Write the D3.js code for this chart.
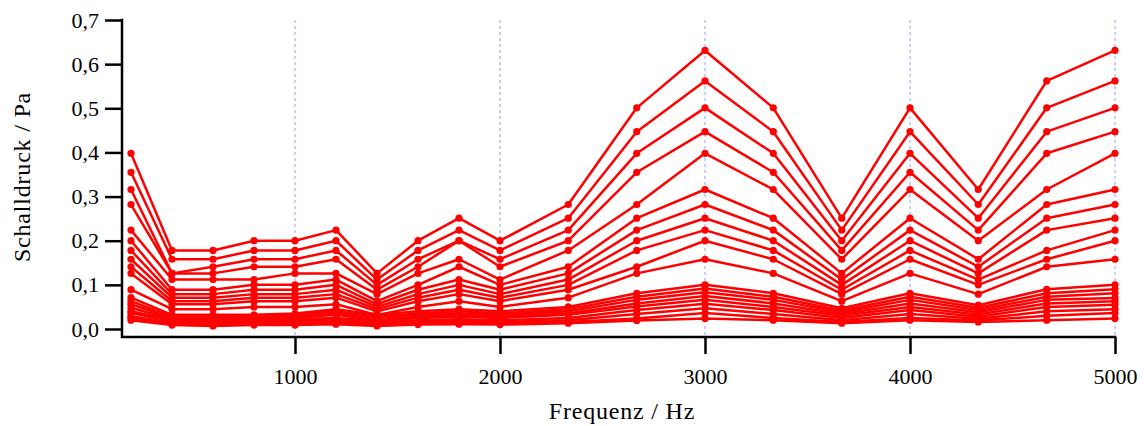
<!DOCTYPE html>
<html>
<head>
<meta charset="utf-8">
<script src="https://cdn.jsdelivr.net/npm/d3@7"></script>
<style>
  body { margin: 0; background: #fff; }
  svg text { font-family: 'Liberation Serif', 'DejaVu Serif', serif; fill: #000; }
</style>
</head>
<body>
<svg id="chart" width="1144" height="426"></svg>
<script>
const freqs = [200, 400, 600, 800, 1000, 1200, 1400, 1600, 1800, 2000, 2333, 2667, 3000, 3333, 3667, 4000, 4333, 4667, 5000]
const xTicks = [1000, 2000, 3000, 4000, 5000]
const yTicks = [0, 0.1, 0.2, 0.3, 0.4, 0.5, 0.6, 0.7]

// upper bundle of curves (Pa)
const upperSeries = [
  [0.398, 0.178, 0.178, 0.200, 0.200, 0.224, 0.126, 0.200, 0.251, 0.200, 0.282, 0.501, 0.631, 0.501, 0.251, 0.501, 0.316, 0.562, 0.631],
  [0.355, 0.158, 0.158, 0.178, 0.178, 0.200, 0.112, 0.178, 0.224, 0.178, 0.251, 0.447, 0.562, 0.447, 0.224, 0.447, 0.282, 0.501, 0.562],
  [0.316, 0.126, 0.141, 0.158, 0.158, 0.178, 0.100, 0.158, 0.200, 0.158, 0.224, 0.398, 0.501, 0.398, 0.200, 0.398, 0.251, 0.447, 0.501],
  [0.282, 0.126, 0.126, 0.141, 0.141, 0.158, 0.089, 0.141, 0.200, 0.141, 0.200, 0.355, 0.447, 0.355, 0.178, 0.355, 0.224, 0.398, 0.447],
  [0.224, 0.112, 0.112, 0.112, 0.126, 0.126, 0.079, 0.126, 0.158, 0.112, 0.178, 0.282, 0.398, 0.316, 0.158, 0.316, 0.200, 0.316, 0.398],
  [0.200, 0.089, 0.089, 0.100, 0.100, 0.112, 0.063, 0.100, 0.141, 0.100, 0.141, 0.251, 0.316, 0.251, 0.126, 0.251, 0.158, 0.282, 0.316],
  [0.178, 0.079, 0.079, 0.089, 0.089, 0.100, 0.056, 0.089, 0.112, 0.089, 0.126, 0.224, 0.282, 0.224, 0.112, 0.224, 0.141, 0.251, 0.282],
  [0.158, 0.071, 0.071, 0.079, 0.079, 0.089, 0.050, 0.079, 0.100, 0.079, 0.112, 0.200, 0.251, 0.200, 0.100, 0.200, 0.126, 0.224, 0.251],
  [0.141, 0.063, 0.063, 0.071, 0.071, 0.079, 0.045, 0.071, 0.089, 0.071, 0.100, 0.178, 0.224, 0.178, 0.089, 0.178, 0.112, 0.178, 0.224],
  [0.126, 0.056, 0.056, 0.063, 0.063, 0.071, 0.040, 0.063, 0.079, 0.063, 0.089, 0.141, 0.200, 0.158, 0.079, 0.158, 0.100, 0.158, 0.200],
  [0.089, 0.045, 0.045, 0.050, 0.050, 0.056, 0.032, 0.050, 0.063, 0.050, 0.071, 0.126, 0.158, 0.126, 0.063, 0.126, 0.079, 0.141, 0.158]
]

// lower bundle of curves (Pa)
const lowerSeries = [
  [0.071, 0.032, 0.032, 0.032, 0.035, 0.045, 0.032, 0.040, 0.045, 0.040, 0.050, 0.081, 0.100, 0.081, 0.047, 0.081, 0.054, 0.090, 0.100],
  [0.063, 0.028, 0.028, 0.028, 0.032, 0.040, 0.028, 0.035, 0.040, 0.035, 0.045, 0.073, 0.092, 0.073, 0.042, 0.073, 0.048, 0.081, 0.090],
  [0.056, 0.025, 0.025, 0.025, 0.028, 0.035, 0.025, 0.032, 0.035, 0.032, 0.040, 0.066, 0.083, 0.066, 0.038, 0.066, 0.043, 0.073, 0.081],
  [0.048, 0.022, 0.022, 0.022, 0.025, 0.032, 0.020, 0.028, 0.032, 0.028, 0.035, 0.058, 0.075, 0.058, 0.034, 0.058, 0.038, 0.066, 0.070],
  [0.040, 0.020, 0.020, 0.020, 0.022, 0.025, 0.018, 0.025, 0.028, 0.025, 0.032, 0.051, 0.066, 0.050, 0.030, 0.050, 0.033, 0.058, 0.063],
  [0.036, 0.018, 0.016, 0.016, 0.018, 0.022, 0.014, 0.020, 0.022, 0.020, 0.025, 0.043, 0.057, 0.043, 0.025, 0.043, 0.028, 0.050, 0.055],
  [0.029, 0.014, 0.013, 0.013, 0.014, 0.018, 0.011, 0.016, 0.018, 0.016, 0.020, 0.034, 0.047, 0.034, 0.020, 0.034, 0.023, 0.040, 0.045],
  [0.025, 0.011, 0.010, 0.011, 0.011, 0.014, 0.009, 0.013, 0.014, 0.013, 0.016, 0.024, 0.036, 0.025, 0.016, 0.025, 0.019, 0.030, 0.036],
  [0.020, 0.009, 0.007, 0.009, 0.009, 0.011, 0.007, 0.010, 0.011, 0.010, 0.013, 0.019, 0.024, 0.020, 0.013, 0.020, 0.016, 0.020, 0.024]
]

const axisLeftX = 122
const axisBottomY = 337

const x = d3.scaleLinear().domain([200, 5000]).range([131, 1115])
const y = d3.scaleLinear().domain([0, 0.7]).range([329, 20])

const svg = d3.select('#chart')

// dashed grid at the labelled frequencies
svg.append('g')
  .selectAll('line')
  .data(xTicks)
  .enter().append('line')
  .attr('x1', (d) => x(d))
  .attr('x2', (d) => x(d))
  .attr('y1', y(0.7))
  .attr('y2', axisBottomY)
  .attr('stroke', '#9a9aff')
  .attr('stroke-width', 1)
  .attr('stroke-dasharray', '3,3')

const line = d3.line()
  .x((d, i) => x(freqs[i]))
  .y((d) => y(d))

const allSeries = lowerSeries.concat(upperSeries)

const curves = svg.append('g')
  .selectAll('g')
  .data(allSeries)
  .enter().append('g')

curves.append('path')
  .attr('d', (d) => line(d))
  .attr('fill', 'none')
  .attr('stroke', '#ff0000')
  .attr('stroke-width', 2.5)
  .attr('stroke-linejoin', 'round')

curves.selectAll('circle')
  .data((d) => d)
  .enter().append('circle')
  .attr('cx', (d, i) => x(freqs[i]))
  .attr('cy', (d) => y(d))
  .attr('r', 3.6)
  .attr('fill', '#ff0000')

// axes
const yAxis = svg.append('g')
  .attr('transform', `translate(${axisLeftX},0)`)
  .call(d3.axisLeft(y)
    .tickValues(yTicks)
    .tickSize(17)
    .tickPadding(6)
    .tickFormat((d) => d.toFixed(1).replace('.', ',')))
yAxis.select('.domain').remove()
yAxis.selectAll('.tick line').attr('stroke', '#000').attr('stroke-width', 2.5)
yAxis.selectAll('.tick text').style('font-size', '22px')

const xAxis = svg.append('g')
  .attr('transform', `translate(0,${axisBottomY})`)
  .call(d3.axisBottom(x)
    .tickValues(xTicks)
    .tickSize(17)
    .tickPadding(14)
    .tickFormat((d) => d))
xAxis.select('.domain').remove()
xAxis.selectAll('.tick line').attr('stroke', '#000').attr('stroke-width', 2.5)
xAxis.selectAll('.tick text').style('font-size', '22px')

svg.append('path')
  .attr('d', `M${axisLeftX},${y(0.7) - 1.25}V${axisBottomY}H${x(5000) + 1.25}`)
  .attr('fill', 'none')
  .attr('stroke', '#000')
  .attr('stroke-width', 2.5)

svg.append('text')
  .attr('x', 622)
  .attr('y', 419)
  .attr('text-anchor', 'middle')
  .style('font-size', '24px')
  .style('letter-spacing', '0.8px')
  .text('Frequenz / Hz')

svg.append('text')
  .attr('transform', 'translate(30,177) rotate(-90)')
  .attr('text-anchor', 'middle')
  .style('font-size', '24px')
  .style('letter-spacing', '0.8px')
  .text('Schalldruck / Pa')
</script>
</body>
</html>
